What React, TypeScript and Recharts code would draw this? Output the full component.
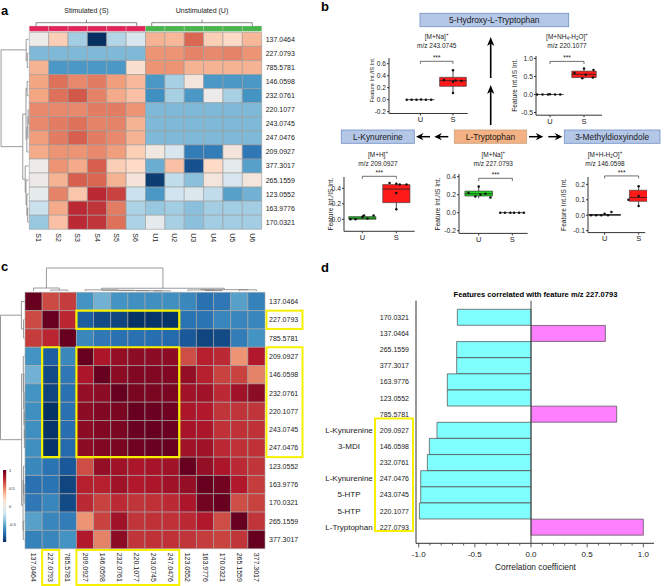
import React from 'react';
import {
  ScatterChart, Scatter, XAxis, YAxis, ReferenceArea, ReferenceLine, ReferenceDot,
  BarChart, Bar, Cell,
} from 'recharts';

const FONT = '"Liberation Sans", Arial, Helvetica, sans-serif';
const TXT = '#1a1a1a';

// ---------------- Panel a data ----------------
const samplesA = ['S1', 'S2', 'S3', 'S4', 'S5', 'S6', 'U1', 'U2', 'U3', 'U4', 'U5', 'U6'];
const groupOfSampleA = ['S', 'S', 'S', 'S', 'S', 'S', 'U', 'U', 'U', 'U', 'U', 'U'];
const featuresA = ['137.0464', '227.0793', '785.5781', '146.0598', '232.0761', '220.1077', '243.0745',
  '247.0476', '209.0927', '377.3017', '265.1559', '123.0552', '163.9776', '170.0321'];
const heatA = [
  [0.0, 0.25, -0.35, -1.0, -0.3, -0.15, 0.35, 0.33, 0.58, 0.25, 0.2, 0.33],
  [-0.45, -0.45, -0.45, -0.45, -0.45, -0.45, 0.45, 0.45, 0.5, 0.48, 0.5, 0.45],
  [0.35, -0.58, -0.58, -0.58, -0.58, 0.15, 0.45, 0.45, 0.35, 0.35, 0.35, 0.35],
  [0.4, 0.55, 0.48, 0.52, 0.42, 0.33, -0.58, -0.33, 0.08, -0.58, -0.58, -0.58],
  [0.4, 0.55, 0.62, 0.5, 0.38, 0.3, -0.62, -0.33, -0.58, 0.0, -0.33, -0.6],
  [0.48, 0.48, 0.48, 0.52, 0.52, 0.45, -0.45, -0.45, -0.45, -0.45, -0.45, -0.45],
  [0.48, 0.52, 0.55, 0.5, 0.5, 0.35, -0.45, -0.45, -0.45, -0.45, -0.45, -0.45],
  [0.42, 0.52, 0.6, 0.52, 0.48, 0.35, -0.45, -0.45, -0.45, -0.45, -0.45, -0.45],
  [0.38, 0.45, 0.45, 0.48, 0.42, 0.25, 0.05, -0.15, -0.7, -0.7, 0.08, -0.72],
  [0.0, 0.45, 0.38, 0.6, 0.25, 0.2, -0.5, 0.3, -0.88, 0.2, -0.05, -0.55],
  [0.02, 0.35, 0.6, 0.58, 0.35, 0.1, -0.95, -0.25, -0.42, 0.08, -0.15, 0.08],
  [-0.05, 0.5, 0.28, 0.75, 0.68, -0.22, -0.58, -0.2, -0.12, -0.25, -0.55, -0.48],
  [-0.22, 0.38, 0.75, 0.72, 0.52, -0.32, -0.38, -0.35, -0.42, -0.35, -0.35, -0.35],
  [-0.38, 0.3, 0.75, 0.72, 0.55, -0.32, -0.05, -0.33, -0.42, -0.35, -0.35, -0.35],
];
type Tree = number | [Tree, Tree, number];
const treeA: Tree = [
  [0, [1, 2, 0.45], 0.85],
  [
    [[3, 4, 0.5], [[[5, 6, 0.12], 7, 0.22], 8, 0.6], 0.9],
    [9, [10, [11, [12, 13, 0.3], 0.6], 0.9], 1.2],
    2.1,
  ],
  10,
];

// ---------------- Panel c data ----------------
const featuresC = ['137.0464', '227.0793', '785.5781', '209.0927', '146.0598', '232.0761', '220.1077',
  '243.0745', '247.0476', '123.0552', '163.9776', '170.0321', '265.1559', '377.3017'];
const corrC = [
  [1, 0.66, 0.70, -0.60, -0.48, -0.60, -0.62, -0.62, -0.62, -0.65, -0.75, -0.72, -0.55, -0.68],
  [0.66, 1, 0.76, -0.83, -0.90, -0.92, -0.99, -0.98, -0.98, -0.74, -0.74, -0.66, -0.66, -0.66],
  [0.70, 0.76, 1, -0.65, -0.72, -0.75, -0.75, -0.76, -0.78, -0.85, -0.92, -0.90, -0.70, -0.60],
  [-0.60, -0.83, -0.65, 1, 0.82, 0.88, 0.90, 0.90, 0.90, 0.65, 0.78, 0.75, 0.45, 0.80],
  [-0.48, -0.90, -0.72, 0.82, 1, 0.90, 0.93, 0.93, 0.93, 0.88, 0.78, 0.68, 0.68, 0.50],
  [-0.60, -0.92, -0.75, 0.88, 0.90, 1, 0.95, 0.95, 0.95, 0.85, 0.85, 0.75, 0.85, 0.90],
  [-0.62, -0.99, -0.75, 0.90, 0.93, 0.95, 1, 0.99, 0.98, 0.82, 0.80, 0.72, 0.72, 0.72],
  [-0.62, -0.98, -0.76, 0.90, 0.93, 0.95, 0.99, 1, 0.99, 0.83, 0.82, 0.73, 0.73, 0.73],
  [-0.62, -0.98, -0.78, 0.90, 0.93, 0.95, 0.98, 0.99, 1, 0.85, 0.85, 0.75, 0.73, 0.73],
  [-0.65, -0.74, -0.85, 0.65, 0.88, 0.85, 0.82, 0.83, 0.85, 1, 0.88, 0.82, 0.75, 0.72],
  [-0.75, -0.74, -0.92, 0.78, 0.78, 0.85, 0.80, 0.82, 0.85, 0.88, 1, 0.97, 0.80, 0.70],
  [-0.72, -0.66, -0.90, 0.75, 0.68, 0.75, 0.72, 0.73, 0.75, 0.82, 0.97, 1, 0.65, 0.68],
  [-0.55, -0.66, -0.70, 0.45, 0.68, 0.85, 0.72, 0.73, 0.73, 0.75, 0.80, 0.65, 1, 0.72],
  [-0.68, -0.66, -0.60, 0.80, 0.50, 0.90, 0.72, 0.73, 0.73, 0.72, 0.70, 0.68, 0.72, 1],
];
const treeC: Tree = [
  [0, [1, 2, 0.4], 1.3],
  [
    [3, [4, [5, [6, [7, 8, 0.05], 0.1], 0.2], 0.3], 0.5],
    [[9, [10, 11, 0.2], 0.45], [12, 13, 0.5], 0.6],
    1.2,
  ],
  10,
];
// highlighted blocks: [col from, col to, row from, row to]
const highlightC = [[3, 9, 1, 2], [1, 2, 3, 9], [3, 9, 3, 9]];
const legendTicksC = [1, 0.5, 0, -0.5];

// ---------------- Panel d data ----------------
const featuresD = ['170.0321', '137.0464', '265.1559', '377.3017', '163.9776', '123.0552', '785.5781',
  '209.0927', '146.0598', '232.0761', '247.0476', '243.0745', '220.1077', '227.0793'];
const corrD = [-0.656, 0.662, -0.662, -0.662, -0.745, -0.745, 0.763, -0.837, -0.905, -0.923, -0.982, -0.982, -0.994, 1.0];
const namesD = ['', '', '', '', '', '', '', 'L-Kynurenine', '3-MDI', '', 'L-Kynurenine', '5-HTP', '5-HTP', 'L-Tryptophan'];
const ticksD = [-1, -0.9, -0.8, -0.7, -0.6, -0.5, -0.4, -0.3, -0.2, -0.1, 0, 0.1, 0.2, 0.3, 0.4, 0.5, 0.6, 0.7, 0.8, 0.9, 1];

// ---------------- Panel b data ----------------
// box stats per group (U, S): [lower whisker, Q1, median, Q3, upper whisker]
const bp243Box = [[0, 0, 0, 0, 0], [0.11, 0.223, 0.317, 0.373, 0.49]];
const bp243U = [0, 0, 0, 0.004, 0, 0];
const bp243UJit = [-0.42, -0.27, -0.12, 0.02, 0.17, 0.33];
const bp243S = [0.49, 0.33, 0.30, 0.31, 0.11, 0.32];
const bp243SJit = [0, -0.28, 0, 0.26, 0, 0.08];

const bp220Box = [[0, 0, 0, 0, 0], [0.45, 0.47, 0.56, 0.65, 0.72]];
const bp220U = [0, 0, 0, 0.01, 0, 0];
const bp220UJit = [-0.38, -0.22, -0.06, 0.0, 0.15, 0.3];
const bp220S = [0.72, 0.68, 0.6, 0.55, 0.47, 0.45];
const bp220SJit = [0.0, 0.28, -0.28, 0.05, 0.26, -0.05];

const bp209Box = [[0, 0.0, 0.015, 0.035, 0.055], [0.125, 0.215, 0.39, 0.448, 0.47]];
const bp209U = [0.0, 0.0, 0.03, 0.05, 0.05, 0.01];
const bp209UJit = [-0.35, -0.2, 0.0, 0.05, 0.33, 0.15];
const bp209S = [0.47, 0.46, 0.45, 0.34, 0.13, 0.45];
const bp209SJit = [-0.2, 0.0, 0.3, 0.0, 0.0, 0.1];

const bp227Box = [[0.16, 0.185, 0.21, 0.24, 0.29], [0, 0, 0, 0, 0]];
const bp227U = [0.29, 0.22, 0.2, 0.18, 0.17, 0.21];
const bp227UJit = [0, -0.3, 0.05, -0.1, 0.35, 0.2];
const bp227S = [0, 0, 0, 0, 0, 0];
const bp227SJit = [-0.36, -0.22, -0.06, 0.05, 0.2, 0.34];

const bp146Box = [[0, 0, 0.002, 0.004, 0.012], [0.058, 0.09, 0.115, 0.162, 0.188]];
const bp146U = [0, 0, 0, 0.01, 0.02, 0.0];
const bp146UJit = [-0.4, -0.25, -0.1, 0.0, 0.2, 0.1];
const bp146S = [0.188, 0.185, 0.1, 0.125, 0.06, 0.06];
const bp146SJit = [0, 0.25, -0.3, 0.0, 0.0, 0.45];

const groupLabelsB = ['U', 'S'];

// ---------------- helpers ----------------
const RDBU = ['#053061', '#2166ac', '#4393c3', '#92c5de', '#d1e5f0', '#ecebea', '#fddbc7', '#f4a582', '#d6604d', '#b2182b', '#67001f'];
function hex2rgb(h: string) {
  return [parseInt(h.slice(1, 3), 16), parseInt(h.slice(3, 5), 16), parseInt(h.slice(5, 7), 16)];
}
function rdbu(v: number) {
  const t = (Math.max(-1, Math.min(1, v)) + 1) * 5;
  const i = Math.min(9, Math.floor(t));
  const f = t - i;
  const a = hex2rgb(RDBU[i]);
  const b = hex2rgb(RDBU[i + 1]);
  const c = a.map((x, k) => Math.round(x + (b[k] - x) * f));
  return `rgb(${c.join(',')})`;
}

function treeSegments(t: Tree) {
  const segs: number[][] = [];
  const walk = (n: Tree): [number, number] => {
    if (typeof n === 'number') return [n + 0.5, 0];
    const a = walk(n[0]);
    const b = walk(n[1]);
    const h = n[2];
    segs.push([a[0], a[1], a[0], h], [b[0], b[1], b[0], h], [a[0], h, b[0], h]);
    return [(a[0] + b[0]) / 2, h];
  };
  walk(t);
  return segs;
}

const Nothing = () => <g />;

function Dendrogram(props: any) {
  const { tree, n, side, left, top, width, height, margin, hMax } = props;
  const segs = treeSegments(tree);
  const isLeft = side === 'left';
  const leaves = Array.from({ length: n }, (_, i) => ({ p: i + 0.5, h: 0 }));
  return (
    <div style={{ position: 'absolute', left, top }}>
      <ScatterChart width={width} height={height} margin={margin}>
        <XAxis type="number" dataKey={isLeft ? 'h' : 'p'} domain={isLeft ? [0, hMax] : [0, n]} reversed={isLeft} hide allowDataOverflow />
        <YAxis type="number" dataKey={isLeft ? 'p' : 'h'} domain={isLeft ? [0, n] : [0, hMax]} reversed={isLeft} hide allowDataOverflow />
        <Scatter data={leaves} shape={Nothing} isAnimationActive={false} />
        {segs.map((s, i) => (
          <ReferenceLine
            key={i}
            ifOverflow="visible"
            segment={isLeft ? [{ x: s[1], y: s[0] }, { x: s[3], y: s[2] }] : [{ x: s[0], y: s[1] }, { x: s[2], y: s[3] }]}
            stroke="#808080"
            strokeWidth={0.8}
          />
        ))}
      </ScatterChart>
    </div>
  );
}

function Heatmap(props: any) {
  const { left, top, width, height, margin, rowLabels, colLabels, values, color, yTop, xAxisHeight, yAxisWidth, children, stroke } = props;
  const nR = rowLabels.length;
  const nC = colLabels.length;
  const centers: any[] = [];
  for (let r = 0; r < nR; r++) for (let c = 0; c < nC; c++) centers.push({ x: c + 0.5, y: r + 0.5 });
  const colTicks = colLabels.map((_: any, i: number) => i + 0.5);
  const rowTicks = rowLabels.map((_: any, i: number) => i + 0.5);
  return (
    <div style={{ position: 'absolute', left, top }}>
      <ScatterChart width={width} height={height} margin={margin}>
        <XAxis
          type="number" dataKey="x" domain={[0, nC]} ticks={colTicks} interval={0} allowDataOverflow
          axisLine={false} tickLine={false} tickSize={0} tickMargin={4} height={xAxisHeight}
          tick={(p: any) => (
            <text x={p.x} y={p.y} transform={`rotate(90 ${p.x} ${p.y})`} textAnchor="start" dominantBaseline="central"
              fontSize={7} fill={TXT} fontFamily={FONT}>
              {colLabels[Math.floor(p.payload.value)]}
            </text>
          )}
        />
        <YAxis
          type="number" dataKey="y" orientation="right" domain={[yTop, nR]} reversed ticks={rowTicks} interval={0} allowDataOverflow
          axisLine={false} tickLine={false} tickSize={0} tickMargin={4} width={yAxisWidth}
          tick={(p: any) => (
            <text x={p.x} y={p.y} textAnchor="start" dominantBaseline="central" fontSize={7} fill={TXT} fontFamily={FONT}>
              {rowLabels[Math.floor(p.payload.value)]}
            </text>
          )}
        />
        <Scatter data={centers} shape={Nothing} isAnimationActive={false} />
        {values.map((row: number[], r: number) =>
          row.map((v: number, c: number) => (
            <ReferenceArea key={`${r}-${c}`} x1={c} x2={c + 1} y1={r} y2={r + 1} ifOverflow="visible"
              fill={color(v)} fillOpacity={1} stroke={stroke} strokeWidth={0.6} />
          ))
        )}
        {children}
      </ScatterChart>
    </div>
  );
}

function BoxPlot(props: any) {
  const { g, box, uPts, uJit, sPts, sJit, fills } = props;
  const yAxisW = 22;
  const mTop = 12;
  const left = g.axisX - yAxisW;
  const top = g.plotTop - mTop;
  const width = g.right - left + 2;
  const height = g.plotBottom - top + 15;
  const pts = [
    ...uPts.map((y: number, i: number) => ({ x: 0 + uJit[i], y })),
    ...sPts.map((y: number, i: number) => ({ x: 1 + sJit[i], y })),
  ];
  const drop = (g.yDomain[1] - g.yDomain[0]) * 0.045;
  const els: any[] = [];
  box.forEach((b: number[], i: number) => {
    const hw = g.half[i];
    els.push(<ReferenceLine key={`wl${i}`} ifOverflow="visible" segment={[{ x: i, y: b[0] }, { x: i, y: b[1] }]} stroke="#222" strokeWidth={0.8} />);
    els.push(<ReferenceLine key={`wh${i}`} ifOverflow="visible" segment={[{ x: i, y: b[3] }, { x: i, y: b[4] }]} stroke="#222" strokeWidth={0.8} />);
    if (b[3] > b[1]) {
      els.push(<ReferenceArea key={`b${i}`} ifOverflow="visible" x1={i - hw} x2={i + hw} y1={b[1]} y2={b[3]}
        fill={fills[i]} fillOpacity={1} stroke="#333" strokeWidth={0.6} />);
    }
    els.push(<ReferenceLine key={`m${i}`} ifOverflow="visible" segment={[{ x: i - hw, y: b[2] }, { x: i + hw, y: b[2] }]} stroke="#222" strokeWidth={0.8} />);
  });
  return (
    <div style={{ position: 'absolute', left, top }}>
      <ScatterChart width={width} height={height} margin={{ top: mTop, right: 2, bottom: 3, left: 0 }}>
        <XAxis type="number" dataKey="x" domain={g.xDomain} ticks={[0, 1]} interval={0} allowDataOverflow
          tickFormatter={(v: number) => groupLabelsB[v]} tickSize={2} tickMargin={1} height={12}
          stroke="#333" tick={{ fontSize: 7.5, fill: TXT, fontFamily: FONT }} />
        <YAxis type="number" dataKey="y" domain={g.yDomain} ticks={g.yTicks} interval={0} allowDataOverflow
          tickFormatter={(v: number) => v.toFixed(1)} tickSize={2} tickMargin={1} width={yAxisW}
          stroke="#333" tick={{ fontSize: g.tickFont, fill: TXT, fontFamily: FONT }} />
        {els}
        <ReferenceLine ifOverflow="visible" segment={[{ x: 0, y: g.bracket - drop }, { x: 0, y: g.bracket }]} stroke="#333" strokeWidth={0.7} />
        <ReferenceLine ifOverflow="visible" segment={[{ x: 0, y: g.bracket }, { x: 1, y: g.bracket }]} stroke="#333" strokeWidth={0.7} />
        <ReferenceLine ifOverflow="visible" segment={[{ x: 1, y: g.bracket - drop }, { x: 1, y: g.bracket }]} stroke="#333" strokeWidth={0.7} />
        <ReferenceDot x={0.5} y={g.bracket} r={0} ifOverflow="visible" stroke="none"
          label={{ value: '***', position: 'top', offset: 1, fontSize: 6.5, fill: TXT }} />
        <Scatter data={pts} isAnimationActive={false}
          shape={(p: any) => <circle cx={p.cx} cy={p.cy} r={1.25} fill="#111" />} />
      </ScatterChart>
    </div>
  );
}

// geometry of the five box plots (page pixels of the plot frames)
const gB243 = { axisX: 389.3, right: 468, plotTop: 58, plotBottom: 113.5, yDomain: [-0.23, 0.695], xDomain: [-0.963, 1.451], yTicks: [-0.2, 0, 0.2, 0.4, 0.6], half: [0.43, 0.41], bracket: 0.64, tickFont: 6.6 };
const gB220 = { axisX: 536, right: 602, plotTop: 55.7, plotBottom: 114.9, yDomain: [-0.575, 1.07], xDomain: [-0.412, 1.529], yTicks: [-0.5, 0, 0.5, 1.0], half: [0.4, 0.36], bracket: 0.92, tickFont: 6.8 };
const gB209 = { axisX: 344.3, right: 415, plotTop: 176.7, plotBottom: 231, yDomain: [-0.155, 0.546], xDomain: [-0.54, 1.54], yTicks: [0, 0.2, 0.4], half: [0.4, 0.4], bracket: 0.555, tickFont: 6.8 };
const gB227 = { axisX: 459.3, right: 528, plotTop: 174, plotBottom: 233.4, yDomain: [-0.23, 0.43], xDomain: [-0.585, 1.455], yTicks: [-0.2, 0, 0.2, 0.4], half: [0.41, 0.38], bracket: 0.382, tickFont: 6.8 };
const gB146 = { axisX: 587.7, right: 645, plotTop: 176.8, plotBottom: 232.4, yDomain: [-0.113, 0.248], xDomain: [-0.489, 1.196], yTicks: [-0.1, 0, 0.1, 0.2], half: [0.47, 0.27], bracket: 0.255, tickFont: 6.8 };

const RED = '#ff1a1a';
const GREEN = '#22d622';
const YEL = '#f7f000';

function Sup({ children }: any) {
  return <tspan fontSize={4.5} dy={-2.6}>{children}</tspan>;
}

function DYTick(p: any) {
  const i = featuresD.indexOf(p.payload.value);
  return (
    <g>
      <text x={p.x} y={p.y} textAnchor="end" dominantBaseline="central" fontSize={7} fill={TXT} fontFamily={FONT}>{p.payload.value}</text>
      {namesD[i] ? (
        <text x={p.x - 60} y={p.y} textAnchor="middle" dominantBaseline="central" fontSize={8} fill={TXT} fontFamily={FONT}>{namesD[i]}</text>
      ) : null}
    </g>
  );
}

function DXTick(p: any) {
  const v = p.payload.value;
  const major = Math.abs(v * 2 - Math.round(v * 2)) < 1e-6;
  return (
    <g>
      <line x1={p.x} x2={p.x} y1={p.y} y2={p.y + (major ? 4 : 2.2)} stroke="#333" strokeWidth={0.8} />
      {major ? (
        <text x={p.x} y={p.y + 13.5} textAnchor="middle" fontSize={8} fill={TXT} fontFamily={FONT}>{v.toFixed(1)}</text>
      ) : null}
    </g>
  );
}

function ArrowUp({ x, tail, tip }: any) {
  return (
    <g>
      <line x1={x} x2={x} y1={tail} y2={tip + 5} stroke="#000" strokeWidth={1.6} />
      <path d={`M${x},${tip} L${x - 3.6},${tip + 9} L${x},${tip + 6.5} L${x + 3.6},${tip + 9} Z`} fill="#000" />
    </g>
  );
}
function ArrowH({ y, tail, tip }: any) {
  const s = tip < tail ? 1 : -1;
  return (
    <g>
      <line x1={tail} x2={tip + s * 4} y1={y} y2={y} stroke="#000" strokeWidth={1.5} />
      <path d={`M${tip},${y} L${tip + s * 7.5},${y - 3.6} L${tip + s * 5.2},${y} L${tip + s * 7.5},${y + 3.6} Z`} fill="#000" />
    </g>
  );
}

export default function App() {
  const dData = featuresD.map((mz, i) => ({ mz, r: corrD[i] }));
  const CW = 240 / 14;
  const CH = 256.4 / 14;
  const CL = 25;
  const CT = 292.3;
  const ylab = (x: number, y: number, fs = 6.6) => (
    <text x={x} y={y} transform={`rotate(-90 ${x} ${y})`} textAnchor="middle" dominantBaseline="central" fontSize={fs} fill={TXT}>
      Feature Int./IS Int.
    </text>
  );
  return (
    <div style={{ position: 'absolute', left: 0, top: 0, width: 667, height: 586, background: '#fff', fontFamily: FONT, overflow: 'hidden' }}>
      {/* ---------- panel a ---------- */}
      <Heatmap
        left={0} top={0} width={320} height={262}
        margin={{ top: 26, left: 29.3, right: 13.3, bottom: 7.7 }}
        rowLabels={featuresA} colLabels={samplesA} values={heatA} color={rdbu}
        yTop={-0.45} xAxisHeight={25} yAxisWidth={45} stroke="#9c9c9c"
      >
        {groupOfSampleA.map((g, c) => (
          <ReferenceArea key={`ann${c}`} x1={c} x2={c + 1} y1={-0.45} y2={-0.07} ifOverflow="visible"
            fill={g === 'S' ? '#e2245c' : '#47b54a'} fillOpacity={1} stroke="#c8c8c8" strokeWidth={0.4} />
        ))}
      </Heatmap>
      <Dendrogram tree={treeA} n={14} side="left" left={0} top={30} width={29} height={202}
        margin={{ top: 2.3, bottom: 2.7, left: 0.5, right: 0.5 }} hMax={10.2} />

      {/* ---------- panel c ---------- */}
      <Heatmap
        left={0} top={270} width={312} height={316}
        margin={{ top: 22.3, left: 25, right: 2, bottom: 2 }}
        rowLabels={featuresC} colLabels={featuresC} values={corrC} color={rdbu}
        yTop={0} xAxisHeight={35.3} yAxisWidth={45} stroke="#a8a8a8"
      >
        {highlightC.map((h, i) => (
          <ReferenceArea key={`hl${i}`} x1={h[0]} x2={h[1]} y1={h[2]} y2={h[3]} ifOverflow="visible"
            fill="none" stroke={YEL} strokeWidth={2.2} />
        ))}
      </Heatmap>
      <Dendrogram tree={treeC} n={14} side="left" left={0} top={290} width={25} height={262}
        margin={{ top: 2.3, bottom: 3.3, left: 0.5, right: 0.5 }} hMax={10} />
      <Dendrogram tree={treeC} n={14} side="top" left={25} top={266} width={240} height={26}
        margin={{ top: 2, bottom: 1, left: 0, right: 0 }} hMax={10} />

      {/* ---------- panel b box plots ---------- */}
      <BoxPlot g={gB243} box={bp243Box} uPts={bp243U} uJit={bp243UJit} sPts={bp243S} sJit={bp243SJit} fills={['#000', RED]} />
      <BoxPlot g={gB220} box={bp220Box} uPts={bp220U} uJit={bp220UJit} sPts={bp220S} sJit={bp220SJit} fills={['#000', RED]} />
      <BoxPlot g={gB209} box={bp209Box} uPts={bp209U} uJit={bp209UJit} sPts={bp209S} sJit={bp209SJit} fills={[GREEN, RED]} />
      <BoxPlot g={gB227} box={bp227Box} uPts={bp227U} uJit={bp227UJit} sPts={bp227S} sJit={bp227SJit} fills={[GREEN, RED]} />
      <BoxPlot g={gB146} box={bp146Box} uPts={bp146U} uJit={bp146UJit} sPts={bp146S} sJit={bp146SJit} fills={['#000', RED]} />

      {/* ---------- panel d ---------- */}
      <div style={{ position: 'absolute', left: 320, top: 280 }}>
        <BarChart layout="vertical" width={347} height={306} data={dData}
          margin={{ top: 20.7, right: 13, bottom: 0, left: 0 }} barCategoryGap={0}>
          <XAxis type="number" dataKey="r" domain={[-1.024, 1.095]} ticks={ticksD} interval={0} allowDataOverflow
            tickLine={false} tickSize={0} tickMargin={0} height={42.7} stroke="#333" tick={(p: any) => <DXTick {...p} />} />
          <XAxis xAxisId="top" orientation="top" type="number" domain={[-1.024, 1.095]} allowDataOverflow
            tick={false} tickLine={false} height={0} stroke="#333" />
          <YAxis type="category" dataKey="mz" width={96} interval={0} tickLine={false} tickSize={0} tickMargin={7}
            padding={{ top: 8.6, bottom: 8 }} stroke="#333" tick={(p: any) => <DYTick {...p} />} />
          <YAxis yAxisId="right" orientation="right" type="number" domain={[0, 1]} tick={false} tickLine={false}
            width={0} stroke="#333" />
          <Bar dataKey="r" isAnimationActive={false} stroke="#4a4a4a" strokeWidth={0.7}>
            {dData.map((d, i) => (
              <Cell key={i} fill={d.r > 0 ? '#ff80ff' : '#80ffff'} />
            ))}
          </Bar>
          <ReferenceLine x={0} stroke="#333" strokeWidth={0.9} ifOverflow="visible" />
        </BarChart>
      </div>

      {/* ---------- annotations ---------- */}
      <svg width={667} height={586} style={{ position: 'absolute', left: 0, top: 0, pointerEvents: 'none' }} fontFamily={FONT}>
        {/* panel letters */}
        <g fontSize={13} fontWeight="bold" fill="#000">
          <text x={1} y={15}>a</text>
          <text x={321} y={11}>b</text>
          <text x={1} y={271}>c</text>
          <text x={321} y={272}>d</text>
        </g>

        {/* panel a group labels */}
        <g fill={TXT} fontSize={7} textAnchor="middle">
          <text x={86.5} y={12.5}>Stimulated (S)</text>
          <text x={202} y={12.5}>Unstimulated (U)</text>
        </g>
        <g stroke="#555" strokeWidth={0.7} fill="none">
          <path d="M36,26 V22.7 H136.7 V26 M86.4,22.7 V19.5" />
          <path d="M151.7,26 V22.7 H252.3 V26 M202,22.7 V19.5" />
        </g>

        {/* panel b diagram */}
        <g fontSize={8.4} textAnchor="middle" fill={TXT}>
          <rect x={420} y={13.3} width={148.7} height={13.4} fill="#b4c7e7" stroke="#7190c4" strokeWidth={0.8} />
          <text x={494.3} y={20.3} dominantBaseline="central">5-Hydroxy-L-Tryptophan</text>
          <rect x={341.3} y={130} width={73} height={13.3} fill="#b4c7e7" stroke="#7190c4" strokeWidth={0.8} />
          <text x={377.8} y={136.9} dominantBaseline="central">L-Kynurenine</text>
          <rect x={454.3} y={130} width={72.4} height={13.3} fill="#f4b183" stroke="#c9a27f" strokeWidth={0.8} />
          <text x={490.5} y={136.9} dominantBaseline="central">L-Tryptophan</text>
          <rect x={564.3} y={130} width={95.7} height={13.3} fill="#b4c7e7" stroke="#7190c4" strokeWidth={0.8} />
          <text x={612.2} y={136.9} dominantBaseline="central">3-Methyldioxyindole</text>
        </g>
        <ArrowUp x={490.7} tail={78} tip={37} />
        <ArrowUp x={490.7} tail={125} tip={85} />
        <ArrowH y={136.7} tail={430} tip={416} />
        <ArrowH y={136.7} tail={448.3} tip={434.3} />
        <ArrowH y={136.7} tail={529} tip={543.3} />
        <ArrowH y={136.7} tail={548.3} tip={562.3} />

        {/* box plot titles */}
        <g fontSize={6.5} textAnchor="middle" fill={TXT}>
          <text x={436.7} y={38.5}>[M+Na]<Sup>+</Sup></text>
          <text x={436.7} y={48}>m/z 243.0745</text>
          <text x={567} y={38.5}>[M+NH<tspan fontSize={4.5} dy={1.5}>4</tspan><tspan dy={-1.5}>-H</tspan><tspan fontSize={4.5} dy={1.5}>2</tspan><tspan dy={-1.5}>O]</tspan><Sup>+</Sup></text>
          <text x={567} y={48}>m/z 220.1077</text>
          <text x={378} y={156.5}>[M+H]<Sup>+</Sup></text>
          <text x={378} y={165.5}>m/z 209.0927</text>
          <text x={493.3} y={156.5}>[M+Na]<Sup>+</Sup></text>
          <text x={493.3} y={165.5}>m/z 227.0793</text>
          <text x={605} y={156.5}>[M+H-H<tspan fontSize={4.5} dy={1.5}>2</tspan><tspan dy={-1.5}>O]</tspan><Sup>+</Sup></text>
          <text x={605} y={165.5}>m/z 146.0598</text>
        </g>
        {ylab(371.5, 80, 5.6)}
        {ylab(515, 85.3)}
        {ylab(330, 204)}
        {ylab(437, 204)}
        {ylab(563.5, 204.5)}

        {/* panel c legend */}
        <defs>
          <linearGradient id="rdbuGrad" x1="0" y1="0" x2="0" y2="1">
            {RDBU.slice().reverse().map((c, i) => (
              <stop key={i} offset={`${i * 10}%`} stopColor={c} />
            ))}
          </linearGradient>
        </defs>
        <rect x={3} y={470} width={3.2} height={72} fill="url(#rdbuGrad)" />
        <g fontSize={4} fill={TXT}>
          {legendTicksC.map((t) => (
            <text key={t} x={9} y={470 + (1 - t) * 36 + 1.5}>{t}</text>
          ))}
        </g>

        {/* panel c label highlight boxes */}
        <g fill="none" stroke={YEL} strokeWidth={2}>
          <rect x={266.5} y={CT + CH * 1} width={36} height={CH} />
          <rect x={266.5} y={CT + CH * 3} width={36} height={CH * 6} />
          <rect x={CL + CW * 1} y={550} width={CW} height={35} />
          <rect x={CL + CW * 3} y={550} width={CW * 6} height={35} />
        </g>

        {/* panel d annotations */}
        <text x={535.5} y={296.8} textAnchor="middle" fontSize={7.6} fontWeight="bold" fill="#000">
          Features correlated with feature m/z 227.0793
        </text>
        <text x={535.5} y={570} textAnchor="middle" fontSize={8.4} fill={TXT}>Correlation coefficient</text>
        <rect x={375} y={418.5} width={38} height={112.5} fill="none" stroke={YEL} strokeWidth={2} />
      </svg>
    </div>
  );
}
